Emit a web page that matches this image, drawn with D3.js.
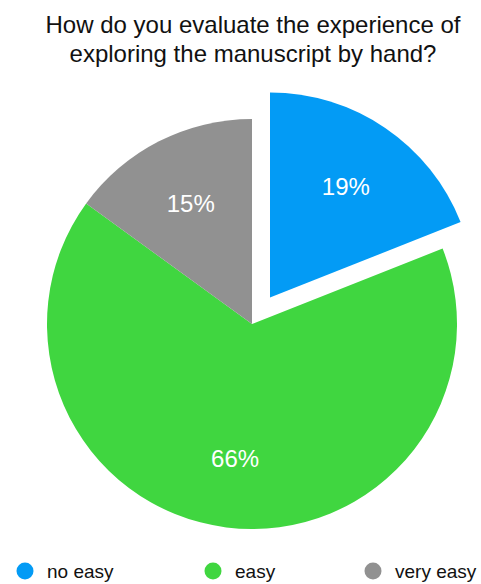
<!DOCTYPE html>
<html>
<head>
<meta charset="utf-8">
<script src="https://cdn.jsdelivr.net/npm/d3@7"></script>
<style>
  html, body { margin: 0; padding: 0; background: #fff; }
  svg { display: block; font-family: Helvetica, "Liberation Sans", Arial, sans-serif; }
</style>
</head>
<body>
<svg id="chart" width="481" height="584"></svg>
<script>
// Survey answers
const categories = ["no easy", "easy", "very easy"];
const values = [19, 66, 15];
const colors = ["#039BF5", "#40D640", "#919191"];
const titleLines = ["How do you evaluate the experience of", "exploring the manuscript by hand?"];
const exploded = ["no easy"];

const svg = d3.select("#chart");
const W = 481;
const cx = 252, cy = 324, radius = 205, labelRadius = 135, explodeDist = 32;

// Title
svg.append("g")
  .selectAll("text")
  .data(titleLines)
  .join("text")
  .attr("x", 253)
  .attr("y", (d, i) => 33 + i * 29)
  .attr("text-anchor", "middle")
  .attr("font-size", 24)
  .attr("fill", "#111")
  .text(d => d);

const color = d3.scaleOrdinal().domain(categories).range(colors);

const pie = d3.pie().sort(null).value(d => d.value);
const data = categories.map((c, i) => ({ cat: c, value: values[i] }));
const arcs = pie(data);
const arc = d3.arc().innerRadius(0).outerRadius(radius);
const labelArc = d3.arc().innerRadius(labelRadius).outerRadius(labelRadius);
const total = d3.sum(values);

function offset(d) {
  if (!exploded.includes(d.data.cat)) return [0, 0];
  const a = (d.startAngle + d.endAngle) / 2;
  return [Math.sin(a) * explodeDist, -Math.cos(a) * explodeDist];
}

const slices = svg.append("g")
  .attr("transform", `translate(${cx},${cy})`)
  .selectAll("g")
  .data(arcs)
  .join("g")
  .attr("transform", d => { const o = offset(d); return `translate(${o[0]},${o[1]})`; });

slices.append("path")
  .attr("d", arc)
  .attr("fill", d => color(d.data.cat));

slices.append("text")
  .attr("transform", d => `translate(${labelArc.centroid(d)})`)
  .attr("text-anchor", "middle")
  .attr("dy", "0.36em")
  .attr("font-size", 24)
  .attr("fill", "#fff")
  .text(d => Math.round(d.data.value / total * 100) + "%");

// Legend
const legendX = [25, 213, 373];
const legend = svg.append("g")
  .selectAll("g")
  .data(categories)
  .join("g")
  .attr("transform", (d, i) => `translate(${legendX[i]},571)`);

legend.append("circle")
  .attr("r", 8.5)
  .attr("fill", d => color(d));

legend.append("text")
  .attr("x", 22)
  .attr("y", 7)
  .attr("font-size", 19)
  .attr("fill", "#111")
  .text(d => d);
</script>
</body>
</html>
